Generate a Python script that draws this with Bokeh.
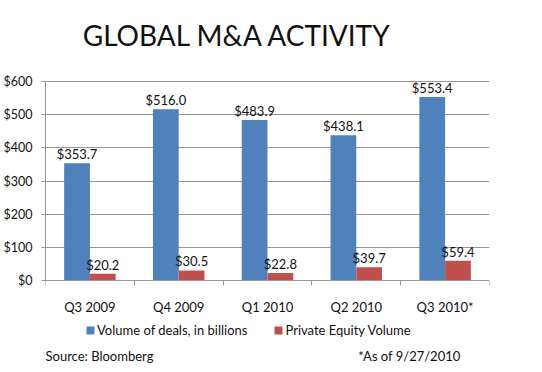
from bokeh.plotting import figure
from bokeh.models import (ColumnDataSource, FixedTicker, LabelSet, Label, Legend,
                          LegendItem, Range1d)
from bokeh.core.properties import value
from bokeh.embed import file_html
from bokeh.resources import INLINE

categories = ["Q3 2009", "Q4 2009", "Q1 2010", "Q2 2010", "Q3 2010*"]
deals = [353.7, 516.0, 483.9, 438.1, 553.4]
pe = [20.2, 30.5, 22.8, 39.7, 59.4]
y_ticks = [0, 100, 200, 300, 400, 500, 600]
series_names = ["Volume of deals, in billions", "Private Equity Volume"]
title_text = "GLOBAL M&A ACTIVITY"
footer_texts = ["Source:  Bloomberg", "*As of 9/27/2010"]

FONT = "Lato"
BLUE = "#4F81BD"
RED = "#C0504D"
GRID = "#969696"
TXT = "#111111"

W, H = 542, 372
# pixel geometry of the value area (0 at y=280px, 600 at y=81px from top)
y0_px, y600_px = 280, 81
s = (y0_px - y600_px) / 600.0
y_start = -(H - y0_px) / s
y_end = 600 + y600_px / s

n = len(categories)
bw = 0.29
centers = [i + 0.5 for i in range(n)]
src = ColumnDataSource(dict(
    xb=[c - bw / 2 for c in centers],
    xr=[c + bw / 2 for c in centers],
    deals=deals, pe=pe,
    deals_lbl=["$%.1f" % v for v in deals],
    pe_lbl=["$%.1f" % v for v in pe],
))

p = figure(width=W, height=H, output_backend="svg", toolbar_location=None,
           title=None, x_range=Range1d(0, n), y_range=Range1d(y_start, y_end),
           min_border_left=43, min_border_right=53, min_border_top=0,
           min_border_bottom=0)
p.outline_line_color = None

rb = p.vbar(x="xb", top="deals", width=bw, source=src, fill_color=BLUE, line_color=None)
rr = p.vbar(x="xr", top="pe", width=bw, source=src, fill_color=RED, line_color=None)

for col_x, col_y, col_t in [("xb", "deals", "deals_lbl"), ("xr", "pe", "pe_lbl")]:
    ls = LabelSet(x=col_x, y=col_y, text=col_t, source=src, text_align="center",
                  text_baseline="bottom", y_offset=1, text_font=value(FONT),
                  text_font_size="13px", text_color=TXT)
    p.add_layout(ls)

# x axis, drawn at value 0
p.xaxis.fixed_location = 0
p.xaxis.ticker = FixedTicker(ticks=centers, minor_ticks=list(range(n + 1)))
p.xaxis.major_label_overrides = {c: lab for c, lab in zip(centers, categories)}
p.xaxis.major_tick_out = 0
p.xaxis.major_tick_in = 0
p.xaxis.minor_tick_out = 5
p.xaxis.minor_tick_in = 0
p.xaxis.minor_tick_line_color = GRID
p.xaxis.axis_line_color = GRID
p.xaxis.major_label_standoff = 13
p.xaxis.major_label_text_font = FONT
p.xaxis.major_label_text_font_size = "13px"
p.xaxis.major_label_text_color = TXT
p.xgrid.grid_line_color = None

# y axis
p.yaxis.ticker = FixedTicker(ticks=y_ticks, minor_ticks=[])
p.yaxis.bounds = (0, 600)
p.yaxis.major_label_overrides = {v: "$%d" % v for v in y_ticks}
p.yaxis.major_tick_out = 4
p.yaxis.major_tick_in = 0
p.yaxis.major_tick_line_color = GRID
p.yaxis.axis_line_color = GRID
p.yaxis.major_label_standoff = 9
p.yaxis.major_label_text_font = FONT
p.yaxis.major_label_text_font_size = "12.5px"
p.yaxis.major_label_text_color = TXT
p.ygrid.grid_line_color = GRID
p.ygrid.grid_line_width = 1

# title (screen units from the frame's bottom-left)
p.add_layout(Label(x=192, y=H - 34, x_units="screen", y_units="screen",
                   text=title_text, text_align="center", text_baseline="alphabetic",
                   text_font=FONT, text_font_size="28px", text_color=TXT))

legend = Legend(items=[LegendItem(label=series_names[0], renderers=[rb]),
                       LegendItem(label=series_names[1], renderers=[rr])],
                orientation="horizontal", location=(40, H - 338),
                label_text_font=FONT, label_text_font_size="13px",
                label_text_color=TXT, glyph_width=10, glyph_height=10,
                label_height=14, label_standoff=2, spacing=26, padding=0,
                margin=0, border_line_color=None, background_fill_alpha=0)
p.add_layout(legend)

p.add_layout(Label(x=0, y=H - 355, x_units="screen", y_units="screen",
                   text=footer_texts[0], text_align="left", text_baseline="middle",
                   text_font=FONT, text_font_size="13px", text_color=TXT))
p.add_layout(Label(x=415, y=H - 355, x_units="screen", y_units="screen",
                   text=footer_texts[1], text_align="right", text_baseline="middle",
                   text_font=FONT, text_font_size="13px", text_color=TXT))

open("out.html", "w").write(file_html(p, INLINE))
